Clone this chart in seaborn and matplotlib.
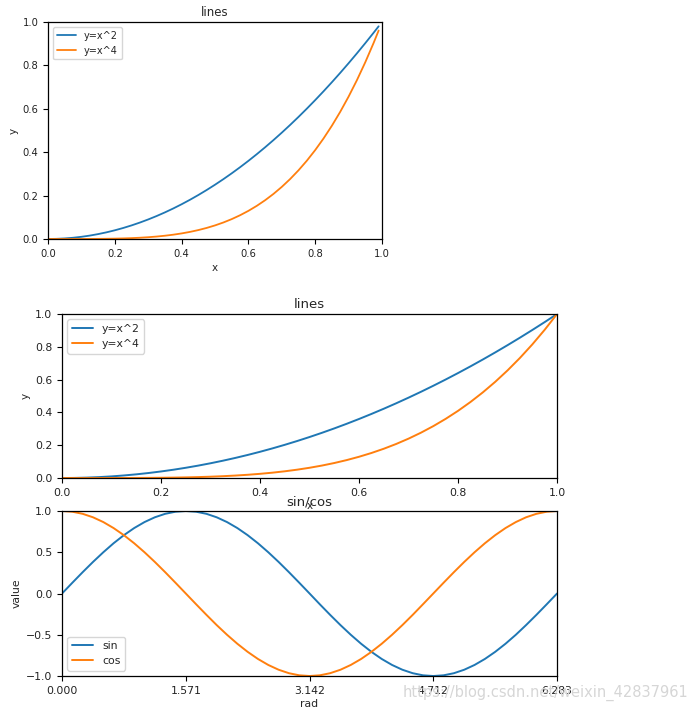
import matplotlib
matplotlib.use("Agg")
import matplotlib.pyplot as plt
import seaborn as sns
import pandas as pd

# ---- data ----
x_top = [0.0, 0.025, 0.05, 0.075, 0.1, 0.125, 0.15, 0.175, 0.2, 0.225, 0.25, 0.275, 0.3,
         0.325, 0.35, 0.375, 0.4, 0.425, 0.45, 0.475, 0.5, 0.525, 0.55, 0.575, 0.6, 0.625,
         0.65, 0.675, 0.7, 0.725, 0.75, 0.775, 0.8, 0.825, 0.85, 0.875, 0.9, 0.925, 0.95,
         0.975, 0.99]
sq_top = [0.0, 0.000625, 0.0025, 0.005625, 0.01, 0.015625, 0.0225, 0.030625, 0.04, 0.050625,
          0.0625, 0.075625, 0.09, 0.105625, 0.1225, 0.140625, 0.16, 0.180625, 0.2025,
          0.225625, 0.25, 0.275625, 0.3025, 0.330625, 0.36, 0.390625, 0.4225, 0.455625, 0.49,
          0.525625, 0.5625, 0.600625, 0.64, 0.680625, 0.7225, 0.765625, 0.81, 0.855625,
          0.9025, 0.950625, 0.9801]
qu_top = [0.0, 0.0000004, 0.00000625, 0.0000316, 0.0001, 0.000244, 0.000506, 0.000938, 0.0016,
          0.002563, 0.003906, 0.005719, 0.0081, 0.011157, 0.015006, 0.019775, 0.0256, 0.032625,
          0.041006, 0.050907, 0.0625, 0.075969, 0.091506, 0.109313, 0.1296, 0.152588,
          0.178506, 0.207594, 0.2401, 0.276282, 0.316406, 0.36075, 0.4096, 0.46325, 0.522006,
          0.586182, 0.6561, 0.732094, 0.814506, 0.903688, 0.9606]

x_mid = [0.0, 0.025, 0.05, 0.075, 0.1, 0.125, 0.15, 0.175, 0.2, 0.225, 0.25, 0.275, 0.3,
         0.325, 0.35, 0.375, 0.4, 0.425, 0.45, 0.475, 0.5, 0.525, 0.55, 0.575, 0.6, 0.625,
         0.65, 0.675, 0.7, 0.725, 0.75, 0.775, 0.8, 0.825, 0.85, 0.875, 0.9, 0.925, 0.95,
         0.975, 1.0]
sq_mid = [0.0, 0.000625, 0.0025, 0.005625, 0.01, 0.015625, 0.0225, 0.030625, 0.04, 0.050625,
          0.0625, 0.075625, 0.09, 0.105625, 0.1225, 0.140625, 0.16, 0.180625, 0.2025,
          0.225625, 0.25, 0.275625, 0.3025, 0.330625, 0.36, 0.390625, 0.4225, 0.455625, 0.49,
          0.525625, 0.5625, 0.600625, 0.64, 0.680625, 0.7225, 0.765625, 0.81, 0.855625,
          0.9025, 0.950625, 1.0]
qu_mid = [0.0, 0.0000004, 0.00000625, 0.0000316, 0.0001, 0.000244, 0.000506, 0.000938, 0.0016,
          0.002563, 0.003906, 0.005719, 0.0081, 0.011157, 0.015006, 0.019775, 0.0256, 0.032625,
          0.041006, 0.050907, 0.0625, 0.075969, 0.091506, 0.109313, 0.1296, 0.152588,
          0.178506, 0.207594, 0.2401, 0.276282, 0.316406, 0.36075, 0.4096, 0.46325, 0.522006,
          0.586182, 0.6561, 0.732094, 0.814506, 0.903688, 1.0]

rad = [0.0, 0.131, 0.262, 0.393, 0.524, 0.654, 0.785, 0.916, 1.047, 1.178, 1.309, 1.440,
       1.571, 1.702, 1.833, 1.963, 2.094, 2.225, 2.356, 2.487, 2.618, 2.749, 2.880, 3.011,
       3.142, 3.272, 3.403, 3.534, 3.665, 3.796, 3.927, 4.058, 4.189, 4.320, 4.451, 4.581,
       4.712, 4.843, 4.974, 5.105, 5.236, 5.367, 5.498, 5.629, 5.760, 5.890, 6.021, 6.152,
       6.283]
sin_v = [0.0, 0.1305, 0.2588, 0.3827, 0.5, 0.6088, 0.7071, 0.7934, 0.8660, 0.9239, 0.9659,
         0.9914, 1.0, 0.9914, 0.9659, 0.9239, 0.8660, 0.7934, 0.7071, 0.6088, 0.5, 0.3827,
         0.2588, 0.1305, 0.0, -0.1305, -0.2588, -0.3827, -0.5, -0.6088, -0.7071, -0.7934,
         -0.8660, -0.9239, -0.9659, -0.9914, -1.0, -0.9914, -0.9659, -0.9239, -0.8660,
         -0.7934, -0.7071, -0.6088, -0.5, -0.3827, -0.2588, -0.1305, 0.0]
cos_v = [1.0, 0.9914, 0.9659, 0.9239, 0.8660, 0.7934, 0.7071, 0.6088, 0.5, 0.3827, 0.2588,
         0.1305, 0.0, -0.1305, -0.2588, -0.3827, -0.5, -0.6088, -0.7071, -0.7934, -0.8660,
         -0.9239, -0.9659, -0.9914, -1.0, -0.9914, -0.9659, -0.9239, -0.8660, -0.7934,
         -0.7071, -0.6088, -0.5, -0.3827, -0.2588, -0.1305, 0.0, 0.1305, 0.2588, 0.3827, 0.5,
         0.6088, 0.7071, 0.7934, 0.8660, 0.9239, 0.9659, 0.9914, 1.0]
rad_ticks = [0.0, 1.571, 3.142, 4.712, 6.283]

line_labels = ["y=x^2", "y=x^4"]
trig_labels = ["sin", "cos"]
palette = ["#1f77b4", "#ff7f0e"]

sns.set_style("ticks")
plt.rcParams["font.family"] = ["DejaVu Sans"]

fig = plt.figure(figsize=(6.9, 7.14), dpi=100)

def make_df(x, a, b, labels, xname, yname):
    return pd.DataFrame({xname: list(x) + list(x), yname: list(a) + list(b),
                         "series": [labels[0]] * len(x) + [labels[1]] * len(x)})

def style(ax, tfs):
    for s in ax.spines.values():
        s.set_visible(True)
        s.set_color("black")
        s.set_linewidth(0.9)
    ax.tick_params(labelsize=tfs, length=3.5, width=0.8, color="black", labelcolor="#222222")

# top
ax1 = fig.add_axes([0.0696, 0.6653, 0.484, 0.3039])
df1 = make_df(x_top, sq_top, qu_top, line_labels, "x", "y")
sns.lineplot(data=df1, x="x", y="y", hue="series", palette=palette, ax=ax1, linewidth=1.3)
ax1.set_xlim(0, 1); ax1.set_ylim(0, 1)
ax1.set_title("lines", fontsize=8.5, pad=4)
ax1.set_xlabel("x", fontsize=7.5, labelpad=3)
ax1.set_ylabel("y", fontsize=7.5, labelpad=3)
style(ax1, 7.2)
h, l = ax1.get_legend_handles_labels()
ax1.legend(h, l, loc="upper left", fontsize=7, frameon=True, handlelength=2, borderpad=0.4)

# middle
ax2 = fig.add_axes([0.0899, 0.3305, 0.7174, 0.2297])
df2 = make_df(x_mid, sq_mid, qu_mid, line_labels, "x", "y")
sns.lineplot(data=df2, x="x", y="y", hue="series", palette=palette, ax=ax2, linewidth=1.4)
ax2.set_xlim(0, 1); ax2.set_ylim(0, 1)
ax2.set_title("lines", fontsize=9.5, pad=4)
ax2.set_xlabel("x", fontsize=7.5, labelpad=2)
ax2.set_ylabel("y", fontsize=7.5, labelpad=3)
style(ax2, 7.8)
h, l = ax2.get_legend_handles_labels()
ax2.legend(h, l, loc="upper left", fontsize=7.8, frameon=True, handlelength=2, borderpad=0.4)

# bottom
ax3 = fig.add_axes([0.0899, 0.0532, 0.7174, 0.2311])
df3 = make_df(rad, sin_v, cos_v, trig_labels, "rad", "value")
sns.lineplot(data=df3, x="rad", y="value", hue="series", palette=palette, ax=ax3, linewidth=1.4)
ax3.set_xlim(0, 6.283); ax3.set_ylim(-1, 1)
ax3.set_xticks(rad_ticks)
ax3.set_xticklabels([f"{v:.3f}" for v in rad_ticks])
ax3.set_yticks([-1.0, -0.5, 0.0, 0.5, 1.0])
ax3.set_title("sin/cos", fontsize=9.5, pad=4)
ax3.set_xlabel("rad", fontsize=7.8, labelpad=2)
ax3.set_ylabel("value", fontsize=7.8, labelpad=3)
style(ax3, 7.8)
h, l = ax3.get_legend_handles_labels()
ax3.legend(h, l, loc="lower left", fontsize=7.8, frameon=True, handlelength=2, borderpad=0.4)

fig.text(0.997, 0.018, "https://blog.csdn.net/weixin_42837961", ha="right", va="bottom",
         fontsize=10.5, color="#d6d6d6")

fig.savefig("out.png", dpi=100)
